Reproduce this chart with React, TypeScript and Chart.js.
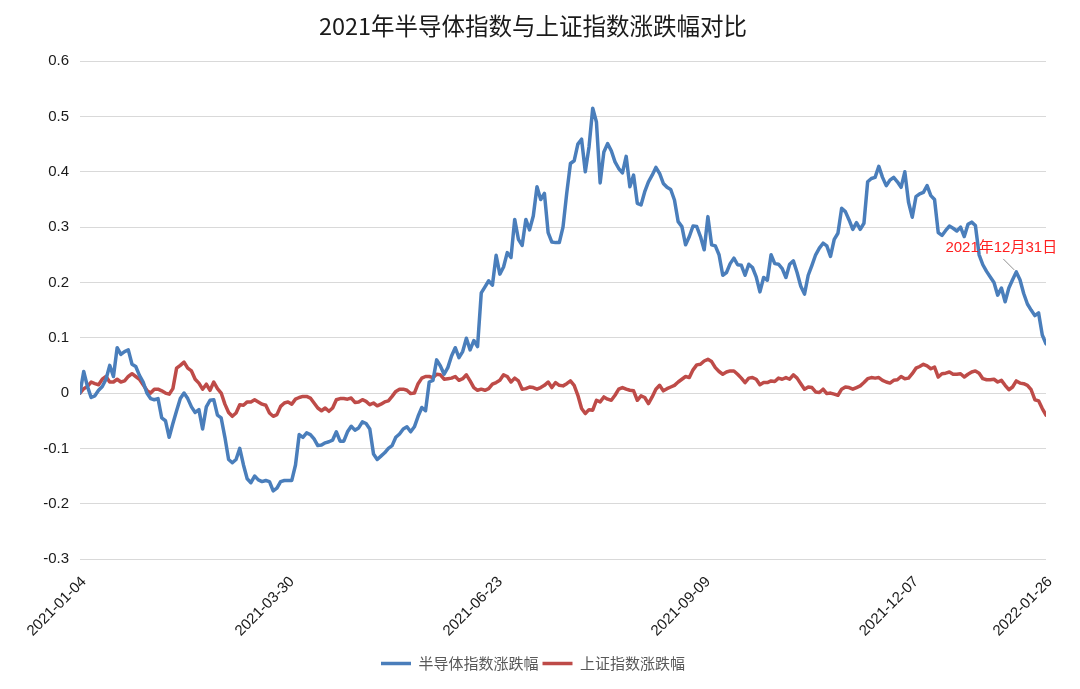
import React, { useEffect, useRef } from "react";
import { Chart, registerables } from "chart.js";

Chart.register(...registerables);

const titleText = "2021年半导体指数与上证指数涨跌幅对比";
const seriesNames = ["半导体指数涨跌幅", "上证指数涨跌幅"];

const semiconductor = [
  0, 0.039, 0.012, -0.008, -0.005, 0.005, 0.012, 0.025, 0.05, 0.03,
  0.082, 0.07, 0.075, 0.078, 0.052, 0.048, 0.032, 0.02, 0, -0.01,
  -0.012, -0.01, -0.045, -0.05, -0.08, -0.055,
  -0.032, -0.01, 0, -0.01, -0.025, -0.035, -0.03, -0.065, -0.025, -0.013,
  -0.012, -0.04, -0.045, -0.08, -0.12, -0.126, -0.12, -0.1, -0.13, -0.155,
  -0.162, -0.15, -0.157, -0.16, -0.158, -0.16, -0.177, -0.172, -0.16, -0.158,
  -0.158, -0.158, -0.13, -0.075, -0.08, -0.072, -0.075, -0.083, -0.095, -0.094,
  -0.09, -0.088, -0.085, -0.07, -0.087, -0.087, -0.07, -0.06, -0.067, -0.063, -0.052,
  -0.055, -0.065, -0.11, -0.12, -0.114, -0.108, -0.1, -0.095, -0.08, -0.074,
  -0.065, -0.061, -0.07, -0.061, -0.042, -0.026, -0.032, 0.02, 0.023, 0.06,
  0.049, 0.034, 0.046, 0.067, 0.082, 0.064, 0.075, 0.099, 0.078, 0.095,
  0.084, 0.181, 0.192, 0.203, 0.195, 0.249, 0.215, 0.228, 0.254, 0.245,
  0.314, 0.278, 0.267, 0.314, 0.295, 0.32, 0.373, 0.35, 0.361, 0.29, 0.273, 0.272,
  0.272, 0.3, 0.361, 0.415, 0.42, 0.45, 0.459, 0.4, 0.445, 0.515,
  0.49, 0.38, 0.436, 0.451, 0.438, 0.418, 0.406, 0.398, 0.428, 0.373,
  0.394, 0.343, 0.34, 0.364, 0.382, 0.394, 0.408, 0.397, 0.379, 0.372,
  0.368, 0.349, 0.31, 0.301, 0.268, 0.283, 0.302, 0.301, 0.283, 0.259,
  0.319, 0.268, 0.266, 0.25, 0.213, 0.218, 0.234, 0.244, 0.232, 0.231,
  0.213, 0.233, 0.227, 0.21, 0.183, 0.209, 0.204, 0.25, 0.234, 0.233,
  0.225, 0.209, 0.233, 0.239, 0.218, 0.193, 0.179, 0.213, 0.231, 0.25,
  0.262, 0.271, 0.266, 0.247, 0.278, 0.289, 0.334, 0.328, 0.313, 0.296,
  0.308, 0.296, 0.307, 0.382, 0.388, 0.39, 0.41, 0.39, 0.375, 0.385,
  0.39, 0.382, 0.372, 0.4, 0.345, 0.318, 0.355, 0.36, 0.363, 0.375, 0.357, 0.35,
  0.29, 0.285, 0.294, 0.302, 0.298, 0.293, 0.3, 0.283, 0.305, 0.309,
  0.303, 0.25, 0.232, 0.22, 0.21, 0.2, 0.177, 0.19, 0.165, 0.19,
  0.205, 0.219, 0.205, 0.18, 0.161, 0.15, 0.14, 0.145, 0.105, 0.089,
];

const shanghai = [
  0, 0.008, 0.012, 0.02, 0.017, 0.015, 0.025, 0.03, 0.02, 0.02,
  0.025, 0.02, 0.022, 0.03, 0.035, 0.03, 0.025, 0.015, 0.005, 0,
  0.007, 0.007, 0.004, 0, -0.002, 0.008,
  0.045, 0.05, 0.056, 0.045, 0.04, 0.025, 0.018, 0.007, 0.016, 0.005,
  0.02, 0.008, 0, -0.02, -0.035, -0.042, -0.036, -0.021, -0.022, -0.016,
  -0.016, -0.012, -0.016, -0.02, -0.022, -0.036, -0.042, -0.039, -0.024, -0.018,
  -0.016, -0.02, -0.011, -0.008, -0.006, -0.006, -0.009, -0.018, -0.027, -0.032,
  -0.027, -0.033, -0.027, -0.012, -0.01, -0.01, -0.011, -0.009, -0.017, -0.016, -0.012,
  -0.015, -0.021, -0.018, -0.023, -0.02, -0.016, -0.014, -0.006, 0.003, 0.007,
  0.007, 0.005, -0.001, 0, 0.017, 0.027, 0.03, 0.03, 0.028, 0.034,
  0.033, 0.025, 0.026, 0.027, 0.03, 0.023, 0.026, 0.033, 0.022, 0.01,
  0.005, 0.007, 0.005, 0.008, 0.016, 0.019, 0.023, 0.033, 0.03, 0.02,
  0.027, 0.022, 0.007, 0.008, 0.011, 0.01, 0.007, 0.01, 0.014, 0.02, 0.01, 0.019,
  0.014, 0.013, 0.017, 0.022, 0.014, -0.004, -0.028, -0.037, -0.03, -0.031,
  -0.013, -0.016, -0.007, -0.011, -0.013, -0.004, 0.007, 0.01, 0.007, 0.005,
  0.004, -0.013, -0.005, -0.008, -0.019, -0.007, 0.007, 0.014, 0.004, 0.008,
  0.011, 0.014, 0.02, 0.025, 0.03, 0.028, 0.042, 0.051, 0.052, 0.058,
  0.061, 0.057, 0.046, 0.039, 0.034, 0.038, 0.04, 0.04, 0.034, 0.027,
  0.019, 0.027, 0.028, 0.025, 0.015, 0.019, 0.019, 0.022, 0.021, 0.027,
  0.025, 0.028, 0.025, 0.033, 0.027, 0.017, 0.007, 0.011, 0.01, 0.002,
  0.001, 0.007, -0.001, 0, -0.002, -0.004, 0.007, 0.011, 0.01, 0.007,
  0.01, 0.013, 0.019, 0.026, 0.028, 0.027, 0.028, 0.023, 0.02, 0.018,
  0.023, 0.024, 0.03, 0.026, 0.027, 0.035, 0.045, 0.048, 0.052, 0.049, 0.044, 0.047,
  0.029, 0.035, 0.036, 0.038, 0.034, 0.034, 0.035, 0.029, 0.034, 0.038,
  0.04, 0.036, 0.026, 0.024, 0.024, 0.025, 0.02, 0.023, 0.014, 0.006,
  0.011, 0.022, 0.018, 0.017, 0.014, 0.006, -0.012, -0.014, -0.028, -0.04,
];

const xTickIndex = [0, 56, 112, 168, 224, 260];
const xTickLabels = ["2021-01-04", "2021-03-30", "2021-06-23", "2021-09-09", "2021-12-07", "2022-01-26"];

const yMin = -0.3;
const yMax = 0.6;
const yStep = 0.1;

const noteIndex = 252;
const noteText = "2021年12月31日";

const seriesColors = ["#4A7EBB", "#BE4B48"];

const latin = "'Liberation Sans', Arial, 'Noto Sans CJK SC', sans-serif";
const cjk = "'Noto Sans CJK SC', 'Liberation Sans', sans-serif";

const notePlugin = {
  id: "noteLabel",
  afterDatasetsDraw(chart: any) {
    const meta = chart.getDatasetMeta(0);
    const el = meta.data[noteIndex];
    if (!el) return;
    const x = el.x;
    const y = el.y;
    const ctx = chart.ctx;
    ctx.save();
    ctx.strokeStyle = "#8f8f8f";
    ctx.lineWidth = 1;
    ctx.beginPath();
    ctx.moveTo(x - 13, y - 13);
    ctx.lineTo(x - 2, y - 2);
    ctx.stroke();
    ctx.fillStyle = "#ff1f1f";
    ctx.font = "15px " + latin;
    ctx.textAlign = "center";
    ctx.textBaseline = "middle";
    ctx.fillText(noteText, x - 15, y - 24);
    ctx.restore();
  },
};

export default function App() {
  const canvasRef = useRef<HTMLCanvasElement | null>(null);

  useEffect(() => {
    const canvas = canvasRef.current;
    if (!canvas) return;
    const series = [semiconductor, shanghai];
    const chart = new Chart(canvas, {
      type: "line",
      data: {
        datasets: series.map((vals, k) => ({
          label: seriesNames[k],
          data: vals.map((v, i) => ({ x: i, y: v })),
          borderColor: seriesColors[k],
          backgroundColor: seriesColors[k],
          borderWidth: 3.5,
          pointRadius: 0,
          pointHoverRadius: 0,
          pointStyle: "line",
          tension: 0,
          borderJoinStyle: "round",
          borderCapStyle: "round",
          fill: false,
        })),
      },
      options: {
        animation: false,
        responsive: true,
        maintainAspectRatio: false,
        layout: { padding: { left: 0, right: 14, top: 0, bottom: 0 } },
        plugins: {
          title: {
            display: true,
            text: titleText,
            color: "#1a1a1a",
            font: { family: cjk, size: 23.5, weight: "normal" },
            padding: { top: 4, bottom: 21 },
          },
          legend: {
            position: "bottom",
            labels: {
              usePointStyle: true,
              pointStyleWidth: 30,
              boxHeight: 4,
              color: "#595959",
              font: { family: cjk, size: 15 },
              padding: 4,
            },
          },
          tooltip: { enabled: false },
        },
        scales: {
          x: {
            type: "linear",
            min: 0,
            max: semiconductor.length - 1,
            grid: { display: false },
            border: { display: false },
            afterBuildTicks: (s: any) => {
              s.ticks = xTickIndex.map((v) => ({ value: v }));
            },
            afterFit: (s: any) => {
              s.height = 93;
              s.paddingLeft = 0;
              s.paddingRight = 0;
            },
            ticks: {
              autoSkip: false,
              minRotation: 45,
              maxRotation: 45,
              padding: 6,
              labelOffset: 4,
              color: "#1a1a1a",
              font: { family: latin, size: 15 },
              callback: (_v: any, idx: number) => xTickLabels[idx] ?? "",
            },
          },
          y: {
            min: yMin,
            max: yMax,
            grid: { color: "#d9d9d9", lineWidth: 1, drawTicks: false },
            border: { display: false },
            afterFit: (s: any) => {
              s.width = 72;
            },
            ticks: {
              stepSize: yStep,
              padding: 11,
              color: "#1a1a1a",
              font: { family: latin, size: 15 },
              callback: (v: any) => String(Number(Number(v).toFixed(1))),
            },
          },
          yR: {
            position: "right",
            grid: { display: false },
            border: { display: false },
            ticks: { display: false },
            afterFit: (s: any) => {
              s.width = 12;
            },
          },
        },
      } as any,
      plugins: [notePlugin],
    });
    return () => chart.destroy();
  }, []);

  return (
    <div style={{ width: 1064, height: 673, position: "relative" }}>
      <canvas ref={canvasRef} />
    </div>
  );
}
